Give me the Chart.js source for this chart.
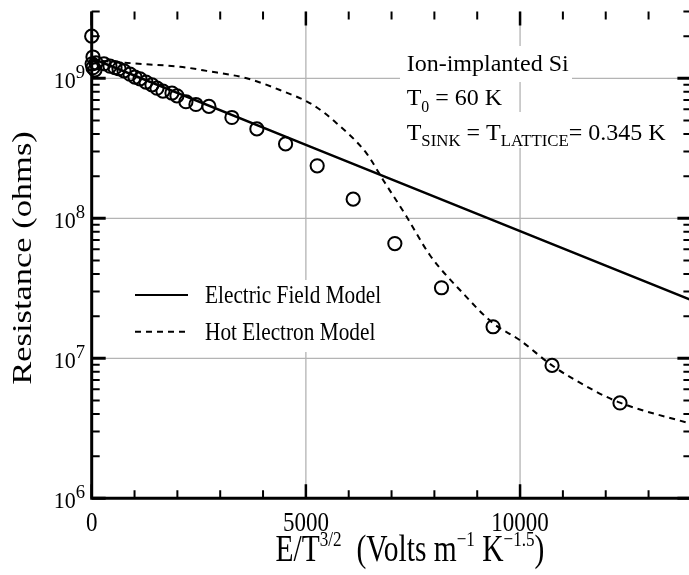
<!DOCTYPE html>
<html>
<head>
<meta charset="utf-8">
<script src="https://cdn.jsdelivr.net/npm/chart.js@4.4.1/dist/chart.umd.min.js"></script>
<style>
  html, body { margin: 0; padding: 0; background: #fff; overflow: hidden; }
  #wrap { width: 689px; height: 575px; overflow: hidden; position: relative; }
  canvas { display: block; }
</style>
</head>
<body>
<div id="wrap"><canvas id="c" width="700" height="575"></canvas></div>
<script>
// Measured resistance against reduced field E/T^(3/2)
const measuredField = [0, 30, 10, 30, 100, 77, 287, 427, 544, 637, 754, 894, 1010, 1127, 1267, 1407, 1524, 1664, 1874, 1990, 2200, 2433, 2737, 3273, 3856, 4526, 5264, 6104, 7077, 8166, 9370, 10747, 12333];
const measuredResistance = [2.0e9, 1.42e9, 1.27e9, 1.19e9, 1.29e9, 1.15e9, 1.27e9, 1.22e9, 1.19e9, 1.17e9, 1.13e9, 1.07e9, 1.02e9, 9.9e8, 9.4e8, 8.97e8, 8.5e8, 8.1e8, 7.85e8, 7.5e8, 6.8e8, 6.5e8, 6.3e8, 5.25e8, 4.35e8, 3.4e8, 2.37e8, 1.37e8, 6.6e7, 3.19e7, 1.68e7, 8.9e6, 4.8e6];

// Electric field model (straight line on the log axis)
const efmField = [0, 5000, 10000, 14000];
const efmResistance = [1.39e9, 3.35e8, 8.1e7, 2.6e7];

// Hot electron model
const hemField = [0, 504, 1283, 2060, 2683, 3616, 4393, 5170, 5716, 6416, 6803, 7349, 7893, 8670, 9370, 9992, 10746, 11702, 12332, 14000];
const hemResistance = [1.35e9, 1.31e9, 1.26e9, 1.21e9, 1.13e9, 1.0e9, 8.25e8, 6.44e8, 4.78e8, 2.91e8, 1.88e8, 1.03e8, 5.47e7, 2.91e7, 1.78e7, 1.35e7, 8.9e6, 5.94e6, 4.82e6, 3.4e6];

// Axis ticks
const xMajorTicks = [0, 5000, 10000];
const xMinorTicks = [1000, 2000, 3000, 4000, 6000, 7000, 8000, 9000, 11000, 12000, 13000];
const yDecadeExponents = [6, 7, 8, 9];
const xGridLines = [5000, 10000];
const yGridLines = [1e7, 1e8, 1e9];

const legendLabels = ['Electric Field Model', 'Hot Electron Model'];

const SERIF = '"Liberation Serif", "Times New Roman", Times, serif';

function toPoints(xs, ys) { return xs.map((x, i) => ({ x: x, y: ys[i] })); }

// Draws a run of text pieces [text, sizeFactor, baselineShiftFactor]
function drawRich(ctx, segs, x, y, size, sy, align, rotate) {
  ctx.save();
  const parts = segs.map(([t, f, d]) => {
    const s = size * f;
    ctx.font = s + 'px ' + SERIF;
    return { t, s, dy: size * d, w: ctx.measureText(t).width };
  });
  const total = parts.reduce((a, p) => a + p.w, 0);
  let cx = align === 'center' ? -total / 2 : align === 'right' ? -total : 0;
  ctx.translate(x, y);
  ctx.scale(1, sy);
  if (rotate) ctx.rotate(-Math.PI / 2);
  ctx.textBaseline = 'alphabetic';
  ctx.textAlign = 'left';
  ctx.fillStyle = '#000';
  for (const p of parts) {
    ctx.font = p.s + 'px ' + SERIF;
    ctx.fillText(p.t, cx, p.dy);
    cx += p.w;
  }
  ctx.restore();
}

const framePlugin = {
  id: 'frame',
  beforeDatasetsDraw(chart) {
    const { ctx, chartArea: a, scales: { x, y } } = chart;
    ctx.save();
    // grid
    ctx.strokeStyle = '#b4b4b4';
    ctx.lineWidth = 1.3;
    ctx.beginPath();
    xGridLines.forEach(v => { const px = x.getPixelForValue(v); ctx.moveTo(px, a.top); ctx.lineTo(px, a.bottom); });
    yGridLines.forEach(v => { const py = y.getPixelForValue(v); ctx.moveTo(a.left, py); ctx.lineTo(a.right, py); });
    ctx.stroke();
    // white panels behind annotation and legend text
    ctx.fillStyle = '#fff';
    ctx.fillRect(400, 46, 172, 36);
    ctx.fillRect(400, 82, 112, 30);
    ctx.fillRect(400, 112, 276, 36);
    ctx.fillRect(128, 280, 260, 72);
    ctx.restore();
  },
  afterDatasetsDraw(chart) {
    const { ctx, chartArea: a, scales: { x, y } } = chart;
    ctx.save();
    ctx.strokeStyle = '#000';
    ctx.lineCap = 'butt';
    // axis frame
    ctx.lineWidth = 3;
    ctx.beginPath();
    ctx.moveTo(a.left, a.top); ctx.lineTo(a.left, a.bottom); ctx.lineTo(a.right, a.bottom); ctx.lineTo(a.right, a.top);
    ctx.stroke();
    // x ticks, bottom and top, pointing inward
    xMajorTicks.forEach(v => {
      const px = x.getPixelForValue(v);
      ctx.lineWidth = 2.5;
      ctx.beginPath();
      ctx.moveTo(px, a.bottom); ctx.lineTo(px, a.bottom - 14);
      ctx.moveTo(px, a.top); ctx.lineTo(px, a.top + 14);
      ctx.stroke();
    });
    xMinorTicks.forEach(v => {
      const px = x.getPixelForValue(v);
      ctx.lineWidth = 2;
      ctx.beginPath();
      ctx.moveTo(px, a.bottom); ctx.lineTo(px, a.bottom - 8);
      ctx.moveTo(px, a.top); ctx.lineTo(px, a.top + 8);
      ctx.stroke();
    });
    // y ticks, left and right, pointing inward
    yDecadeExponents.forEach(e => {
      for (let m = 1; m <= 9; m++) {
        const v = m * Math.pow(10, e);
        if (v < y.min || v > y.max) continue;
        const py = y.getPixelForValue(v);
        const len = m === 1 ? 14 : 8;
        ctx.lineWidth = m === 1 ? 3 : 2;
        ctx.beginPath();
        ctx.moveTo(a.left, py); ctx.lineTo(a.left + len, py);
        ctx.moveTo(a.right, py); ctx.lineTo(a.right - len, py);
        ctx.stroke();
      }
    });
    ctx.restore();

    // tick labels
    yDecadeExponents.forEach(e => {
      const py = y.getPixelForValue(Math.pow(10, e));
      drawRich(ctx, [['10', 1, 0], [String(e), 0.85, -0.45]], 85, py + 10, 22, 1.05, 'right');
    });
    xMajorTicks.forEach(v => {
      drawRich(ctx, [[String(v), 1, 0]], x.getPixelForValue(v), 531, 23, 1.15, 'center');
    });

    // axis titles
    drawRich(ctx, [['E/T', 1, 0], ['3/2', 0.58, -0.4], ['  (Volts m', 1, 0], ['\u22121', 0.58, -0.4], [' K', 1, 0], ['\u22121.5', 0.58, -0.4], [')', 1, 0]],
      410, 561, 29.5, 1.25, 'center');
    drawRich(ctx, [['Resistance (ohms)', 1, 0]], 31, 258, 26.5, 1.3, 'center', true);

    // annotation
    drawRich(ctx, [['Ion-implanted Si', 1, 0]], 406.7, 70.7, 24, 1.0, 'left');
    drawRich(ctx, [['T', 1, 0], ['0', 0.66, 0.28], [' = 60 K', 1, 0]], 406.7, 105, 24, 1.0, 'left');
    drawRich(ctx, [['T', 1, 0], ['SINK', 0.7, 0.28], [' = T', 1, 0], ['LATTICE', 0.7, 0.28], ['= 0.345 K', 1, 0]], 406.7, 139.5, 24, 1.0, 'left');

    // legend
    ctx.save();
    ctx.strokeStyle = '#000';
    ctx.lineWidth = 2;
    ctx.beginPath(); ctx.moveTo(135, 295); ctx.lineTo(188, 295); ctx.stroke();
    ctx.setLineDash([6, 5]);
    ctx.beginPath(); ctx.moveTo(135, 331.7); ctx.lineTo(188, 331.7); ctx.stroke();
    ctx.restore();
    drawRich(ctx, [[legendLabels[0], 1, 0]], 205, 303, 21.3, 1.15, 'left');
    drawRich(ctx, [[legendLabels[1], 1, 0]], 205, 340, 21.3, 1.15, 'left');
  }
};

new Chart(document.getElementById('c'), {
  type: 'scatter',
  data: {
    datasets: [
      {
        label: 'Data',
        data: toPoints(measuredField, measuredResistance),
        showLine: false,
        pointRadius: 6.6,
        pointBorderWidth: 2,
        pointBorderColor: '#000',
        pointBackgroundColor: 'rgba(0,0,0,0)',
        clip: false,
        order: 0
      },
      {
        label: legendLabels[0],
        data: toPoints(efmField, efmResistance),
        showLine: true,
        borderColor: '#000',
        borderWidth: 2.5,
        pointRadius: 0,
        order: 1
      },
      {
        label: legendLabels[1],
        data: toPoints(hemField, hemResistance),
        showLine: true,
        borderColor: '#000',
        borderWidth: 2,
        borderDash: [6, 5],
        cubicInterpolationMode: 'monotone',
        pointRadius: 0,
        order: 2
      }
    ]
  },
  options: {
    responsive: false,
    animation: false,
    devicePixelRatio: 1,
    layout: { padding: { left: 91.7, top: 11.5, right: 8.3, bottom: 76.7 } },
    plugins: { legend: { display: false }, tooltip: { enabled: false } },
    scales: {
      x: { type: 'linear', min: 0, max: 14000, display: false },
      y: { type: 'logarithmic', min: 1e6, max: 3e9, display: false }
    }
  },
  plugins: [framePlugin]
});
</script>
</body>
</html>
